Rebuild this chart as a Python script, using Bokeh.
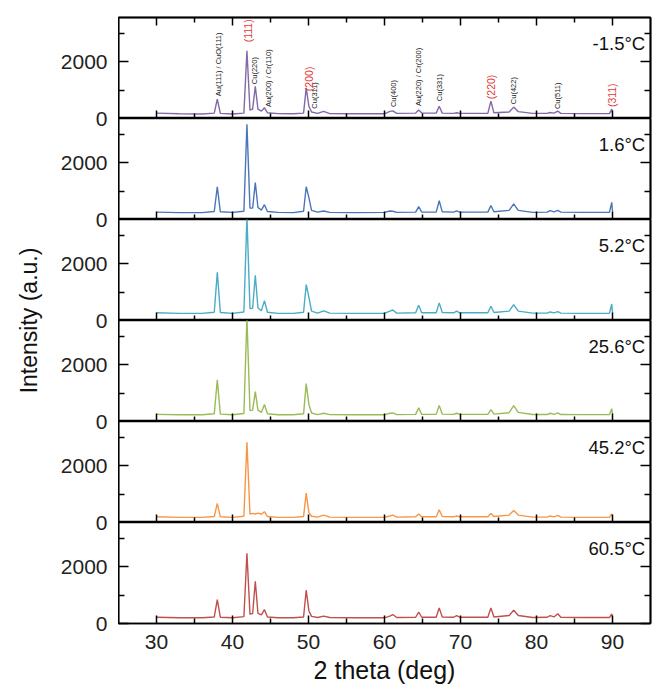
import math
from bokeh.plotting import figure
from bokeh.layouts import column, row
from bokeh.models import LinearAxis, FixedTicker, Range1d, Label, ColumnDataSource
from bokeh.core.properties import value
from bokeh.embed import file_html
from bokeh.resources import INLINE

# ---------------- data ----------------
two_theta = [30.0, 33.0, 36.0, 37.6, 38.0, 38.4, 40.0, 41.5, 41.9, 42.3,
             42.65, 43.0, 43.35, 43.8, 44.2, 44.6, 46.0, 48.0, 49.35, 49.7,
             50.05, 50.4, 51.2, 52.0, 52.8, 56.0, 60.0, 60.7, 61.1, 61.6,
             64.1, 64.5, 64.9, 66.8, 67.2, 67.6, 69.1, 69.5, 69.9, 73.6,
             74.0, 74.4, 76.4, 77.0, 77.6, 79.5, 81.4, 81.8, 82.3, 82.8,
             83.2, 86.0, 89.6, 89.9, 90.0]

temps = ["-1.5°C", "1.6°C", "5.2°C", "25.6°C", "45.2°C", "60.5°C"]

int_m1_5 = [190, 165, 160, 190, 680, 180, 160, 190, 2380, 300,
            330, 1130, 330, 260, 380, 200, 170, 165, 190, 1075,
            430, 230, 180, 250, 170, 165, 165, 250, 270, 180,
            190, 300, 190, 190, 430, 190, 180, 200, 180, 180,
            610, 200, 230, 400, 240, 180, 180, 210, 190, 260,
            180, 170, 170, 330, 190]
int_1_6 = [260, 240, 240, 280, 1150, 270, 250, 290, 3350, 400,
           400, 1300, 420, 330, 520, 280, 250, 240, 290, 1150,
           770, 320, 260, 300, 250, 240, 250, 300, 290, 250,
           260, 450, 260, 260, 660, 270, 260, 300, 260, 260,
           490, 270, 320, 550, 320, 250, 260, 310, 270, 320,
           260, 250, 250, 600, 280]
int_5_2 = [270, 250, 250, 290, 1690, 280, 250, 300, 3650, 420,
           430, 1590, 440, 340, 700, 290, 250, 250, 290, 1260,
           820, 330, 260, 340, 260, 250, 250, 330, 370, 260,
           270, 540, 270, 270, 620, 280, 270, 330, 270, 270,
           500, 280, 330, 560, 330, 260, 260, 300, 270, 310,
           260, 250, 250, 580, 270]
int_25_6 = [250, 235, 235, 270, 1465, 260, 235, 280, 3650, 380,
            400, 1050, 400, 320, 600, 270, 235, 235, 270, 1330,
            600, 300, 240, 290, 240, 235, 235, 290, 300, 240,
            250, 480, 250, 250, 560, 260, 250, 290, 250, 250,
            420, 260, 310, 560, 320, 245, 245, 290, 250, 300,
            245, 240, 240, 450, 260]
int_45_2 = [200, 180, 180, 210, 670, 200, 180, 220, 2820, 300,
            320, 300, 330, 290, 380, 210, 180, 180, 210, 1030,
            350, 220, 190, 260, 190, 180, 180, 230, 260, 190,
            200, 300, 200, 200, 450, 210, 200, 230, 200, 200,
            320, 210, 260, 420, 260, 190, 190, 230, 200, 250,
            190, 180, 180, 300, 200]
int_60_5 = [220, 200, 200, 230, 840, 220, 200, 240, 2470, 330,
            350, 1480, 360, 300, 490, 230, 200, 200, 230, 1170,
            450, 250, 210, 260, 210, 200, 200, 260, 315, 210,
            220, 400, 220, 220, 550, 230, 220, 280, 220, 220,
            550, 230, 280, 470, 280, 210, 220, 280, 230, 340,
            220, 210, 210, 340, 220]

series = [int_m1_5, int_1_6, int_5_2, int_25_6, int_45_2, int_60_5]

# peak annotations of the top panel
peak_names = ["Au(111) / CuO(111)", "Cu(220)", "Au(200) / Cr(110)", "Cu(311)",
              "Cu(400)", "Au(220) / Cr(200)", "Cu(331)", "Cu(422)", "Cu(511)"]
peak_name_x = [38.15, 42.9, 44.7, 50.8, 61.2, 64.5, 67.2, 77.0, 82.8]
peak_name_y = [785, 1207, 402, 345, 400, 437, 610, 505, 330]

hkl_names = ["(111)", "(200)", "(220)", "(311)"]
hkl_x = [42.1, 50.0, 73.95, 89.9]
hkl_y = [2680, 962, 680, 400]

x_major = [30, 40, 50, 60, 70, 80, 90]
x_minor = [35, 45, 55, 65, 75, 85]
y_major = [0, 2000]
y_minor = [1000, 3000]
y_top = 3550

# ---------------- styling ----------------
colors = ["#8468A8", "#4A76B8", "#4BACC6", "#9BBB59", "#F79646", "#C0504D"]
FONT = "Liberation Sans"
FRAME_W = 532
FRAME_H = 101
LEFT = 118
RIGHT = 20
TOP = 17
BOTTOM = 67
N = len(series)


def tick_axis(ticks, length):
    """An axis that only draws inward ticks (no labels, no extent)."""
    ax = LinearAxis(ticker=FixedTicker(ticks=[], minor_ticks=ticks))
    ax.minor_tick_in = length
    ax.minor_tick_out = 0
    ax.major_tick_in = 0
    ax.major_tick_out = 0
    ax.minor_tick_line_width = 1.5
    ax.minor_tick_line_color = "black"
    ax.axis_line_color = "black"
    ax.axis_line_width = 1.5
    ax.major_label_standoff = 0
    return ax


figs = []
for i in range(N):
    first = i == 0
    last = i == N - 1
    p = figure(frame_width=FRAME_W, frame_height=FRAME_H,
               x_range=Range1d(25, 95), y_range=Range1d(0, y_top),
               output_backend="svg", toolbar_location=None,
               x_axis_location=None, y_axis_location=None,
               min_border_left=0, min_border_right=RIGHT,
               min_border_top=TOP if first else 0,
               min_border_bottom=BOTTOM if last else 0)
    p.xgrid.visible = False
    p.ygrid.visible = False
    p.outline_line_color = "black"
    p.outline_line_width = 1.5
    p.background_fill_color = "white"
    p.border_fill_color = "white"

    for side in ("left", "right"):
        p.add_layout(tick_axis(y_major, 10), side)
        p.add_layout(tick_axis(y_minor, 6), side)

    if last:
        bottom = LinearAxis(ticker=FixedTicker(ticks=x_major, minor_ticks=x_minor))
        bottom.major_tick_in = 8
        bottom.major_tick_out = 0
        bottom.minor_tick_in = 5
        bottom.minor_tick_out = 0
        bottom.major_tick_line_width = 1.5
        bottom.minor_tick_line_width = 1.5
        bottom.axis_line_width = 1.5
        bottom.major_label_text_font = FONT
        bottom.major_label_text_font_size = "21px"
        bottom.major_label_text_color = "#222222"
        bottom.major_label_standoff = 11
        bottom.axis_label = "2 theta (deg)"
        bottom.axis_label_text_font = FONT
        bottom.axis_label_text_font_size = "25px"
        bottom.axis_label_text_font_style = "normal"
        bottom.axis_label_text_color = "#111111"
        bottom.axis_label_standoff = 4
        p.add_layout(bottom, "below")
    else:
        p.add_layout(tick_axis(x_major, 8), "below")
        p.add_layout(tick_axis(x_minor, 5), "below")
    if first:
        p.add_layout(tick_axis(x_major, 8), "above")
        p.add_layout(tick_axis(x_minor, 5), "above")

    src = ColumnDataSource(dict(x=two_theta, y=series[i]))
    p.line("x", "y", source=src, line_color=colors[i], line_width=1.4)

    p.add_layout(Label(x=94.3, y=2640, text=temps[i], text_align="right",
                       text_baseline="middle", text_font=FONT,
                       text_font_size="18.5px", text_color="#111111"))

    if first:
        s1 = ColumnDataSource(dict(x=peak_name_x, y=peak_name_y, t=peak_names))
        p.text("x", "y", text="t", source=s1, angle=math.pi / 2,
               text_align="left", text_baseline="middle",
               text_font=value(FONT), text_font_size="7.5px",
               text_color="#222222")
        s2 = ColumnDataSource(dict(x=hkl_x, y=hkl_y, t=hkl_names))
        p.text("x", "y", text="t", source=s2, angle=math.pi / 2,
               text_align="left", text_baseline="middle",
               text_font=value(FONT), text_font_size="10.5px",
               text_color="#E03A3A")
    figs.append(p)

# left strip: the stacked intensity tick labels and the shared y title
stack_ticks = [k * y_top + t for k in range(N) for t in y_major]
lab = figure(frame_width=1, frame_height=N * FRAME_H,
             x_range=Range1d(0, 1), y_range=Range1d(0, N * y_top),
             output_backend="svg", toolbar_location=None,
             x_axis_location=None, y_axis_location=None,
             min_border_left=LEFT - 1, min_border_right=0,
             min_border_top=TOP, min_border_bottom=BOTTOM)
lab.xgrid.visible = False
lab.ygrid.visible = False
lab.outline_line_color = None
lab.background_fill_color = "white"
lab.border_fill_color = "white"
yax = LinearAxis(ticker=FixedTicker(ticks=stack_ticks, minor_ticks=[]))
yax.major_label_overrides = {k * y_top + t: str(t) for k in range(N) for t in y_major}
yax.axis_line_color = None
yax.major_tick_line_color = None
yax.major_tick_in = 0
yax.major_tick_out = 0
yax.minor_tick_in = 0
yax.minor_tick_out = 0
yax.major_label_standoff = 10
yax.major_label_text_font = FONT
yax.major_label_text_font_size = "21px"
yax.major_label_text_color = "#222222"
yax.axis_label = "Intensity (a.u.)"
yax.axis_label_text_font = FONT
yax.axis_label_text_font_size = "23px"
yax.axis_label_text_font_style = "normal"
yax.axis_label_text_color = "#111111"
yax.axis_label_standoff = 16
lab.add_layout(yax, "left")

layout = row(lab, column(*figs, spacing=0), spacing=0)
open("out.html", "w").write(file_html(layout, INLINE))
